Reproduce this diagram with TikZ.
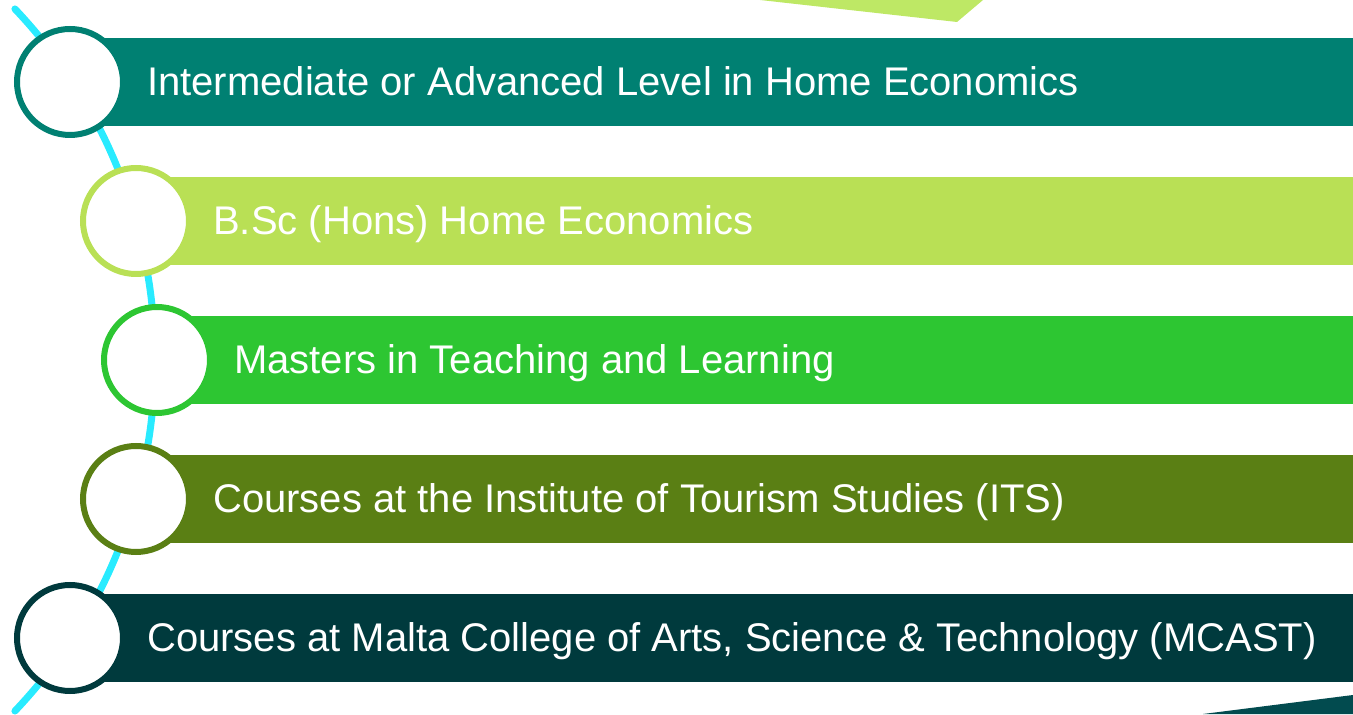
\documentclass[tikz,border=0pt]{standalone}
\usepackage{fontspec}
\setmainfont{Liberation Sans}
\definecolor{colA}{RGB}{0,128,114}
\definecolor{colB}{RGB}{185,224,85}
\definecolor{colC}{RGB}{45,198,50}
\definecolor{colD}{RGB}{90,127,20}
\definecolor{colE}{RGB}{0,58,61}
\definecolor{triL}{RGB}{190,232,101}
\definecolor{triD}{RGB}{2,75,79}
\definecolor{cyanline}{RGB}{41,235,255}
\begin{document}
\begin{tikzpicture}[x=0.75pt,y=0.75pt,
  ring/.style={circle,draw=#1,fill=white,line width=4.5pt,minimum size=79.5pt,inner sep=0pt},
  label/.style={anchor=base west,text=white,inner sep=0pt,font=\fontsize{30}{36}\selectfont},
  arcline/.style={draw=cyanline,line width=5.25pt,line cap=round}]
\useasboundingbox (0,0) rectangle (1353,714);
\fill[triL] (760,714) -- (957,692) -- (983,714) -- cycle;
\fill[triD] (1203,0) -- (1353,19) -- (1353,0) -- cycle;
\draw[arcline] ([shift={(-43.5:510)}]-355,354) arc[start angle=-43.5,end angle=43.5,radius=510];
% bars
\fill[colA] (70,588) rectangle (1353,676);
\fill[colB] (136,449) rectangle (1353,537);
\fill[colC] (157,310) rectangle (1353,398);
\fill[colD] (136,171) rectangle (1353,259);
\fill[colE] (70,32) rectangle (1353,120);
% rings
\node[ring=colA] (c1) at (70,632) {};
\node[ring=colB] (c2) at (136,493) {};
\node[ring=colC] (c3) at (157,354) {};
\node[ring=colD] (c4) at (136,215) {};
\node[ring=colE] (c5) at (70,76) {};
% labels
\node[label] (t1) at (147,618) {Intermediate or Advanced Level in Home Economics};
\node[label] (t2) at (213,479) {B.Sc (Hons) Home Economics};
\node[label] (t3) at (234,340) {Masters in Teaching and Learning};
\node[label] (t4) at (213,201) {Courses at the Institute of Tourism Studies (ITS)};
\node[label] (t5) at (147,62) {Courses at Malta College of Arts, Science \& Technology (MCAST)};
\end{tikzpicture}
\end{document}
